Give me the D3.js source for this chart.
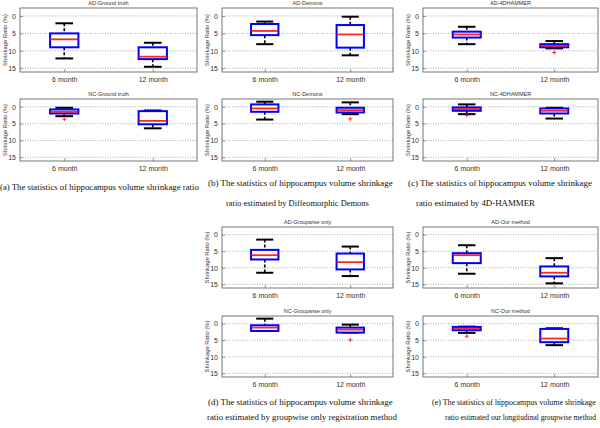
<!DOCTYPE html>
<html><head><meta charset="utf-8">
<script src="https://cdn.jsdelivr.net/npm/d3@7"></script>
<style>body{margin:0;background:#fff}svg{display:block}</style>
</head><body>
<svg id="c" width="600" height="428"></svg>
<script>
// ---- data ----
const months = ["6 month", "12 month"];
const yTicks = [0, 5, 10, 15];
const yLabel = "Shrinkage Ratio (%)";
// box stats per month: [upper whisker, q1, median, q3, lower whisker] (shrinkage %)
const groundTruthAD = [[2.1, 5.0, 6.7, 9.0, 12.2], [7.7, 9.0, 11.7, 12.4, 14.6]];
const groundTruthNC = [[0.3, 0.8, 1.5, 2.0, 2.8], [1.1, 1.3, 4.2, 5.2, 6.4]];
const demonsAD = [[1.6, 2.3, 4.3, 5.5, 8.1], [0.2, 2.6, 5.3, 9.1, 11.3]];
const demonsNC = [[-1.5, -0.7, 0.5, 1.5, 3.8], [-1.3, 0.3, 1.0, 1.7, 2.2]];
const hammerAD = [[3.1, 4.5, 5.3, 6.2, 8.1], [7.2, 8.1, 8.6, 9.0, 9.3]];
const hammerNC = [[-0.7, 0.2, 0.7, 1.2, 2.2], [0.3, 0.5, 1.2, 2.0, 3.5]];
const groupwiseAD = [[1.5, 4.6, 6.2, 7.5, 11.5], [3.6, 5.7, 8.3, 10.5, 12.5]];
const groupwiseNC = [[-1.5, 0.5, 1.2, 2.2, 2.2], [0.3, 1.2, 1.8, 2.7, 2.7]];
const ourAD = [[3.2, 5.6, 6.2, 8.6, 11.8], [7.1, 9.6, 11.5, 12.6, 14.7]];
const ourNC = [[0.9, 1.0, 1.5, 2.0, 2.8], [1.4, 1.6, 4.5, 5.6, 6.5]];
// outliers per month
const groundTruthNCOut = [[3.7], []];
const demonsNCOut = [[], [3.6]];
const hammerADOut = [[], [10.5]];
const hammerNCOut = [[2.5], []];
const groupwiseNCOut = [[], [4.9]];
const ourNCOut = [[3.8], []];
const titles = ["AD-Ground truth", "NC-Ground truth", "AD-Demons", "NC-Demons", "AD-4DHAMMER", "NC-4DHAMMER",
  "AD-Groupwise only", "NC-Groupwise only", "AD-Our method", "NC-Our method"];
const captions = [
  ["(a) The statistics of hippocampus volume shrinkage ratio"],
  ["(b) The statistics of hippocampus volume shrinkage", "ratio estimated by Diffeomorphic Demons"],
  ["(c) The statistics of hippocampus volume shrinkage", "ratio estimated by 4D-HAMMER"],
  ["(d) The statistics of hippocampus volume shrinkage", "ratio estimated by groupwise only registration method"],
  ["(e) The statistics of hippocampus volume shrinkage", "ratio estimated our longitudinal groupwise method"]
];

// ---- layout ----
const cols = [[20, 197], [222, 393], [423, 598]];
const rowsY = { topAD: [8, 72], topNC: [99, 161], botAD: [227, 288], botNC: [316, 377] };
const panels = [
  { t: titles[0], d: groundTruthAD, o: [[], []], c: cols[0], r: rowsY.topAD },
  { t: titles[1], d: groundTruthNC, o: groundTruthNCOut, c: cols[0], r: rowsY.topNC },
  { t: titles[2], d: demonsAD, o: [[], []], c: cols[1], r: rowsY.topAD },
  { t: titles[3], d: demonsNC, o: demonsNCOut, c: cols[1], r: rowsY.topNC },
  { t: titles[4], d: hammerAD, o: hammerADOut, c: cols[2], r: rowsY.topAD },
  { t: titles[5], d: hammerNC, o: hammerNCOut, c: cols[2], r: rowsY.topNC },
  { t: titles[6], d: groupwiseAD, o: [[], []], c: cols[1], r: rowsY.botAD },
  { t: titles[7], d: groupwiseNC, o: groupwiseNCOut, c: cols[1], r: rowsY.botNC },
  { t: titles[8], d: ourAD, o: [[], []], c: cols[2], r: rowsY.botAD },
  { t: titles[9], d: ourNC, o: ourNCOut, c: cols[2], r: rowsY.botNC }
];
const capPos = [
  [[0, 190, 199]],
  [[208, 186, 185]],
  [[408, 186, 184]],
  [[208, 405, 185], [207, 420, 190]],
  [[432, 405, 164], [445, 420, 151]]
];
capPos[1].push([226, 206, 143]);
capPos[2].push([416, 206, 119]);

const svg = d3.select("#c");
const sans = "'Liberation Sans', Arial, sans-serif";

panels.forEach(p => {
  const x = d3.scalePoint().domain(months).range(p.c).padding(0.5);
  const y = d3.scaleLinear().domain([-2.3, 16.1]).range(p.r);
  const g = svg.append("g");
  const [x0, x1] = p.c, [y0, y1] = p.r;
  const step = x.step();
  // grid
  g.selectAll(".grid").data(yTicks).join("line")
    .attr("x1", x0).attr("x2", x1).attr("y1", d => y(d)).attr("y2", d => y(d))
    .attr("stroke", "#8a8a8a").attr("stroke-width", 0.7).attr("stroke-dasharray", "1,1.5");
  // axes
  const ya = d3.axisLeft(y).tickValues(yTicks).tickSize(-3).tickPadding(4);
  g.append("g").attr("transform", `translate(${x0},0)`).call(ya)
    .call(s => s.select(".domain").remove())
    .call(s => s.selectAll("text").attr("font-family", sans).attr("font-size", 7).attr("fill", "#333"))
    .call(s => s.selectAll("line").attr("stroke", "#555").attr("stroke-width", 0.6));
  const xa = d3.axisBottom(x).tickSize(-3).tickPadding(5);
  g.append("g").attr("transform", `translate(0,${y1})`).call(xa)
    .call(s => s.select(".domain").remove())
    .call(s => s.selectAll("text").attr("font-family", sans).attr("font-size", 7).attr("fill", "#333"))
    .call(s => s.selectAll("line").attr("stroke", "#555").attr("stroke-width", 0.6));
  // frame
  g.append("rect").attr("x", x0).attr("y", y0).attr("width", x1 - x0).attr("height", y1 - y0)
    .attr("fill", "none").attr("stroke", "#555").attr("stroke-width", 0.8);
  // title
  g.append("text").attr("x", (x0 + x1) / 2).attr("y", y0 - 3).attr("text-anchor", "middle")
    .attr("font-family", sans).attr("font-size", 5.5).attr("fill", "#333").text(p.t);
  // y label
  g.append("text").attr("transform", `translate(${x0 - 13},${(y0 + y1) / 2}) rotate(-90)`)
    .attr("text-anchor", "middle").attr("font-family", sans).attr("font-size", 5.8).attr("fill", "#333").text(yLabel);
  // boxes
  const bw = step * 0.32, cw = step * 0.2;
  months.forEach((m, i) => {
    const [wt, q1, md, q3, wb] = p.d[i];
    const cx = x(m);
    const bg = g.append("g");
    bg.append("line").attr("x1", cx).attr("x2", cx).attr("y1", y(wt)).attr("y2", y(q1))
      .attr("stroke", "#000").attr("stroke-width", 1.6).attr("stroke-dasharray", "3,2");
    bg.append("line").attr("x1", cx).attr("x2", cx).attr("y1", y(q3)).attr("y2", y(wb))
      .attr("stroke", "#000").attr("stroke-width", 1.6).attr("stroke-dasharray", "3,2");
    [wt, wb].forEach(v => bg.append("line").attr("x1", cx - cw / 2).attr("x2", cx + cw / 2)
      .attr("y1", y(v)).attr("y2", y(v)).attr("stroke", "#000").attr("stroke-width", 2));
    bg.append("rect").attr("x", cx - bw / 2).attr("width", bw).attr("y", y(q1)).attr("height", y(q3) - y(q1))
      .attr("fill", "#fff").attr("stroke", "#0000ff").attr("stroke-width", 2);
    bg.append("line").attr("x1", cx - bw / 2).attr("x2", cx + bw / 2).attr("y1", y(md)).attr("y2", y(md))
      .attr("stroke", "#ff0000").attr("stroke-width", 1.8).attr("stroke-opacity", 0.85);
    p.o[i].forEach(v => {
      bg.append("path").attr("d", `M${cx - 2},${y(v)}H${cx + 2}M${cx},${y(v) - 2}V${y(v) + 2}`)
        .attr("stroke", "#ff0000").attr("stroke-width", 0.8);
    });
  });
});

// captions: font size fitted so the natural width matches the reference width
captions.forEach((lines, i) => {
  lines.forEach((t, j) => {
    const [cx, cy, w] = capPos[i][j];
    const txt = svg.append("text").attr("x", cx).attr("y", cy)
      .attr("font-family", "'Liberation Serif', 'Times New Roman', serif")
      .attr("font-size", 10).attr("fill", "#111").text(t);
    const nat = txt.node().getComputedTextLength();
    txt.attr("font-size", (10 * w / nat).toFixed(2));
  });
});
</script>
</body></html>
